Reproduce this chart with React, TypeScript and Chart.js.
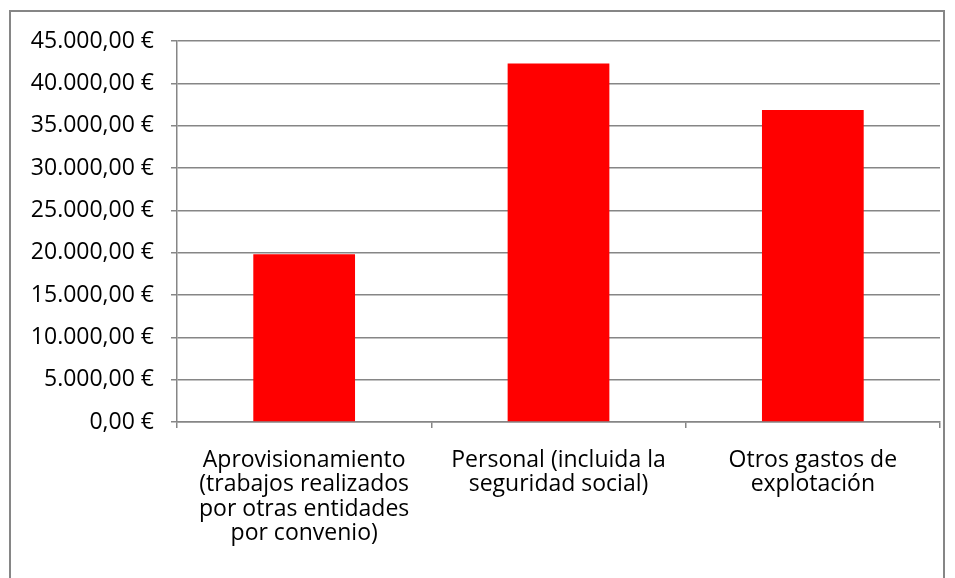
import React, { useEffect, useRef } from "react";
import { Chart, registerables } from "chart.js";

Chart.register(...registerables);

const categories: string[][] = [
  ["Aprovisionamiento", "(trabajos realizados", "por otras entidades", "por convenio)"],
  ["Personal (incluida la", "seguridad social)"],
  ["Otros gastos de", "explotación"],
];
const values: number[] = [19800, 42350, 36850];
const yMax = 45000;
const yStep = 5000;

const fmt = (v: number) =>
  v.toLocaleString("de-DE", { minimumFractionDigits: 2, maximumFractionDigits: 2 }) + " €";

export default function App() {
  const ref = useRef<HTMLCanvasElement | null>(null);
  useEffect(() => {
    if (!ref.current) return;
    const chart = new Chart(ref.current, {
      type: "bar",
      data: {
        labels: categories,
        datasets: [
          {
            data: values,
            backgroundColor: "#ff0000",
            borderWidth: 0,
            categoryPercentage: 1,
            barPercentage: 0.4,
          },
        ],
      },
      options: {
        animation: false,
        responsive: false,
        maintainAspectRatio: false,
        layout: { padding: { left: 0, right: 15, top: 41, bottom: 0 } },
        plugins: { legend: { display: false }, tooltip: { enabled: false } },
        scales: {
          x: {
            grid: {
              drawOnChartArea: false,
              drawTicks: true,
              tickLength: 6,
              color: "#868686",
              lineWidth: 1.5,
            },
            border: { color: "#868686", width: 1.5 },
            ticks: {
              color: "#000000",
              font: { family: "Open Sans", size: 23, lineHeight: 1.065 },
              padding: 20,
              maxRotation: 0,
              autoSkip: false,
            },
            afterFit: (s: any) => {
              s.height = 156;
            },
          },
          y: {
            min: 0,
            max: yMax,
            grid: { color: "#868686", lineWidth: 1.5, tickLength: 6 },
            border: { color: "#868686", width: 1.5 },
            ticks: {
              stepSize: yStep,
              color: "#000000",
              font: { family: "Open Sans", size: 23 },
              padding: 17,
              callback: (v: any) => fmt(Number(v)),
            },
            afterFit: (s: any) => {
              s.width = 177;
            },
          },
        },
      },
    });
    return () => chart.destroy();
  }, []);
  return (
    <div style={{ position: "fixed", left: 0, top: 0, width: 955, height: 578, background: "#fff", overflow: "hidden" }}>
      <div
        style={{
          position: "absolute",
          left: 9,
          top: 10,
          width: 936,
          height: 600,
          border: "2px solid #868686",
          boxSizing: "border-box",
        }}
      />
      <canvas ref={ref} width={955} height={578} style={{ position: "absolute", left: 0, top: 0 }} />
    </div>
  );
}
